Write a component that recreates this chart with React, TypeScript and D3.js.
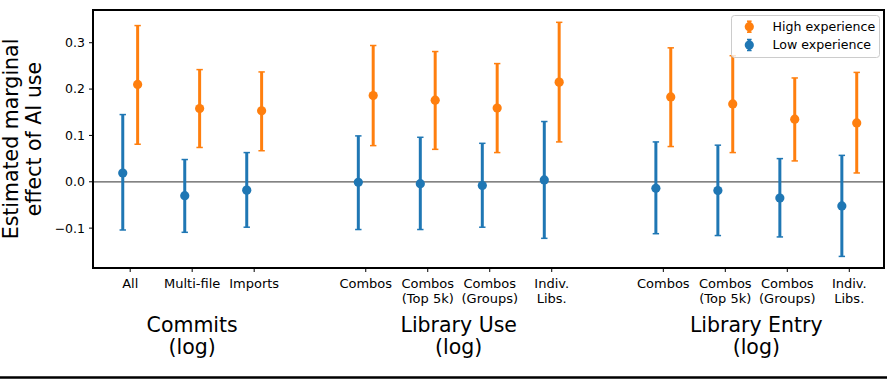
import React from "react";
import * as d3 from "d3";

const categories = ["All", "Multi-file", "Imports", "Combos", "Combos\n(Top 5k)", "Combos\n(Groups)", "Indiv.\nLibs.", "Combos", "Combos\n(Top 5k)", "Combos\n(Groups)", "Indiv.\nLibs."];
const positions = [0, 1, 2, 3.8, 4.8, 5.8, 6.8, 8.6, 9.6, 10.6, 11.6];
const groups = ["Commits\n(log)", "Library Use\n(log)", "Library Entry\n(log)"];
const groupCenters = [1, 5.3, 10.1];

const lowMean = [0.019, -0.030, -0.018, -0.001, -0.004, -0.008, 0.004, -0.014, -0.019, -0.035, -0.052];
const lowUpper = [0.145, 0.048, 0.063, 0.099, 0.096, 0.083, 0.130, 0.086, 0.079, 0.050, 0.057];
const lowLower = [-0.104, -0.109, -0.098, -0.103, -0.103, -0.098, -0.122, -0.112, -0.116, -0.119, -0.161];

const highMean = [0.210, 0.158, 0.153, 0.186, 0.176, 0.159, 0.215, 0.183, 0.168, 0.135, 0.127];
const highUpper = [0.337, 0.242, 0.237, 0.294, 0.281, 0.255, 0.344, 0.289, 0.272, 0.224, 0.236];
const highLower = [0.081, 0.074, 0.067, 0.078, 0.070, 0.063, 0.086, 0.076, 0.063, 0.045, 0.019];

const yTicks = [-0.1, 0.0, 0.1, 0.2, 0.3];
const seriesNames = ["High experience", "Low experience"];

const BLUE = "#1f77b4";
const ORANGE = "#ff7f0e";
const FONT = "DejaVu Sans, sans-serif";

export default function App() {
  const left = 93, right = 884, top = 10, bottom = 268;
  const x = d3.scaleLinear().domain([-0.6, 12.16]).range([left, right]);
  const y = d3.scaleLinear().domain([-0.186, 0.3706]).range([bottom, top]);
  const off = 0.12;

  const series = [
    { name: seriesNames[1], color: BLUE, mean: lowMean, lo: lowLower, hi: lowUpper, dx: -off },
    { name: seriesNames[0], color: ORANGE, mean: highMean, lo: highLower, hi: highUpper, dx: off },
  ];

  const fmt = (v: number) => (v < 0 ? "\u2212" : "") + Math.abs(v).toFixed(1);

  return (
    <svg width={887} height={379} style={{ position: "absolute", left: 0, top: 0, background: "#fff" }} fontFamily={FONT}>
      <line x1={left} x2={right} y1={y(0)} y2={y(0)} stroke="#000" strokeOpacity={0.65} strokeWidth={1.3} />
      {series.map((s) =>
        s.mean.map((m, i) => {
          const cx = x(positions[i] + s.dx);
          return (
            <g key={s.name + i}>
              <line x1={cx} x2={cx} y1={y(s.lo[i])} y2={y(s.hi[i])} stroke={s.color} strokeWidth={3} />
              <line x1={cx - 3.2} x2={cx + 3.2} y1={y(s.lo[i])} y2={y(s.lo[i])} stroke={s.color} strokeWidth={1.5} />
              <line x1={cx - 3.2} x2={cx + 3.2} y1={y(s.hi[i])} y2={y(s.hi[i])} stroke={s.color} strokeWidth={1.5} />
              <circle cx={cx} cy={y(m)} r={4.6} fill={s.color} />
            </g>
          );
        })
      )}
      <rect x={left} y={top} width={right - left} height={bottom - top} fill="none" stroke="#000" strokeWidth={2} />
      {yTicks.map((t) => (
        <g key={t}>
          <line x1={left - 4} x2={left} y1={y(t)} y2={y(t)} stroke="#000" strokeWidth={1} />
          <text x={left - 8} y={y(t)} dy="0.35em" textAnchor="end" fontSize={12.5} fill="#000">{fmt(t)}</text>
        </g>
      ))}
      {categories.map((c, i) => (
        <g key={i}>
          <line x1={x(positions[i])} x2={x(positions[i])} y1={bottom} y2={bottom + 4} stroke="#000" strokeWidth={1} />
          <text x={x(positions[i])} y={288} textAnchor="middle" fontSize={13} fill="#000">
            {c.split("\n").map((l, k) => (
              <tspan key={k} x={x(positions[i])} y={287.5 + k * 15}>{l}</tspan>
            ))}
          </text>
        </g>
      ))}
      {groups.map((g, i) => (
        <text key={g} x={x(groupCenters[i])} y={331.5} textAnchor="middle" fontSize={20.5} fill="#000">
          {g.split("\n").map((l, k) => (
            <tspan key={k} x={x(groupCenters[i])} y={331.5 + k * 22.5}>{l}</tspan>
          ))}
        </text>
      ))}
      <g transform={`translate(0,${(top + bottom) / 2}) rotate(-90)`}>
        <text x={0} y={18} textAnchor="middle" fontSize={20.5} fill="#000">Estimated marginal</text>
        <text x={0} y={41} textAnchor="middle" fontSize={20.5} fill="#000">effect of AI use</text>
      </g>
      <rect x={731.5} y={15.5} width={148} height={42} rx={3} fill="#fff" fillOpacity={0.8} stroke="#ccc" strokeWidth={1} />
      {[
        { name: seriesNames[0], color: ORANGE, cy: 26.7 },
        { name: seriesNames[1], color: BLUE, cy: 45 },
      ].map((l) => (
        <g key={l.name}>
          <line x1={749.3} x2={749.3} y1={l.cy - 5.5} y2={l.cy + 5.5} stroke={l.color} strokeWidth={3} />
          <line x1={747} x2={751.6} y1={l.cy - 5.5} y2={l.cy - 5.5} stroke={l.color} strokeWidth={1.5} />
          <line x1={747} x2={751.6} y1={l.cy + 5.5} y2={l.cy + 5.5} stroke={l.color} strokeWidth={1.5} />
          <circle cx={749.3} cy={l.cy} r={4.6} fill={l.color} />
          <text x={772.5} y={l.cy} dy="0.35em" fontSize={12.6} fill="#000">{l.name}</text>
        </g>
      ))}
      <line x1={0} x2={887} y1={377.5} y2={377.5} stroke="#000" strokeWidth={2.5} />
    </svg>
  );
}
